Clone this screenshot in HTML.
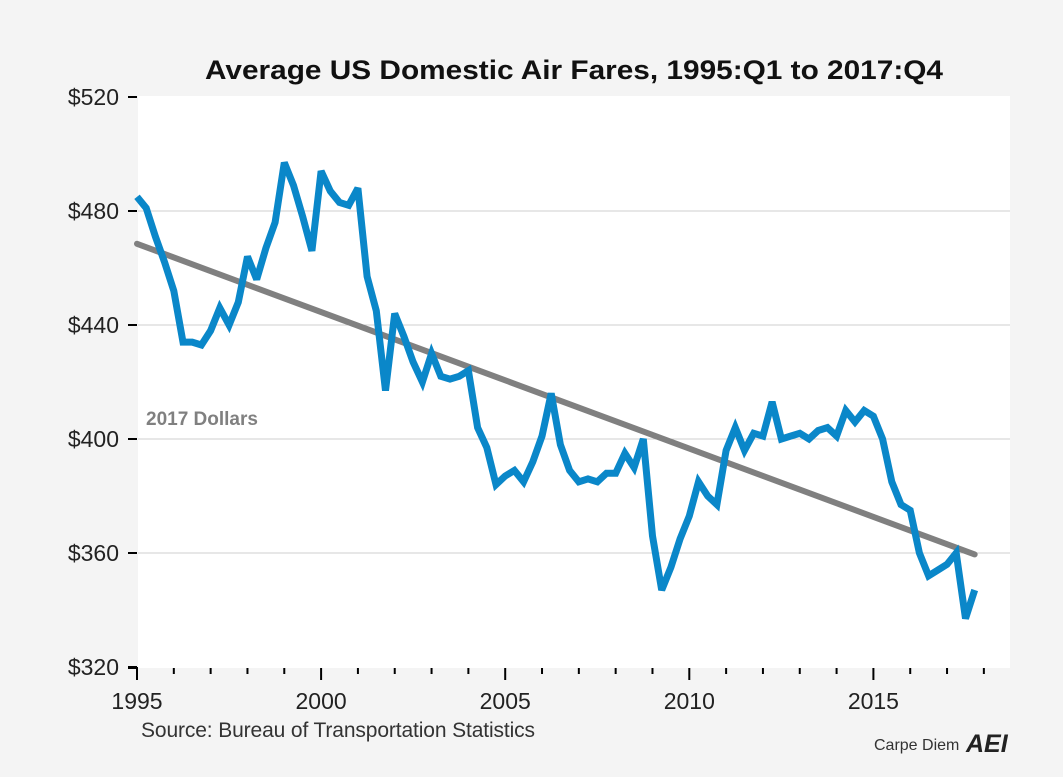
<!DOCTYPE html>
<html><head><meta charset="utf-8"><style>
body{margin:0;background:#f4f4f4;}
svg{display:block;font-family:"Liberation Sans",sans-serif;}
</style></head><body>
<svg id="chart" width="1063" height="777" viewBox="0 0 1063 777">
<rect x="0" y="0" width="1063" height="777" fill="#f4f4f4"/>
<text x="205" y="79" font-size="27" font-weight="bold" fill="#111" textLength="738" lengthAdjust="spacingAndGlyphs">Average US Domestic Air Fares, 1995:Q1 to 2017:Q4</text>
<rect x="138" y="96" width="872" height="572" fill="#fff"/>
<g id="grid"></g><g id="axes"></g><g id="series"></g>
<text x="146" y="425" font-size="19" font-weight="bold" fill="#808080">2017 Dollars</text>
<text x="141" y="737" font-size="21" fill="#333" textLength="394">Source: Bureau of Transportation Statistics</text>
<text x="874" y="750" font-size="16" fill="#333">Carpe Diem</text>
<text x="966" y="752" font-size="25" font-weight="bold" font-style="italic" fill="#222">AEI</text>
</svg>
<script>
const fares = [485,481,471,462, 452,434,434,433, 438,446,440,448, 464,456,467,476,
497,489,478,466, 494,487,483,482, 488,457,445,417, 444,436,427,420,
430,422,421,422, 424,404,397,384, 387,389,385,392, 401,416,398,389,
385,386,385,388, 388,395,390,400, 366,347,355,365, 373,385,380,377,
396,404,396,402, 401,413,400,401, 402,400,403,404, 401,410,406,410,
408,400,385,377, 375,360,352,354, 356,360,337,347];
const startYear = 1995;
const trendEnds = [468.5, 359.5];
const yTicks = [320,360,400,440,480,520];
const xLabels = [1995,2000,2005,2010,2015];

const NS="http://www.w3.org/2000/svg";
const x0=137, pxYear=36.82, yTop=97, yBot=667, vMin=320, vMax=520;
const xScale = t => x0 + (t - startYear) * pxYear;
const yScale = v => yBot - (v - vMin) / (vMax - vMin) * (yBot - yTop);
function mk(tag, attrs, parent){const e=document.createElementNS(NS,tag);for(const k in attrs)e.setAttribute(k,attrs[k]);parent.appendChild(e);return e;}
const grid=document.getElementById('grid'), axes=document.getElementById('axes'), series=document.getElementById('series');

yTicks.forEach(v=>{
  const y=yScale(v);
  if(v>vMin && v<vMax){
    const g=mk('line',{x1:138,x2:1010,y1:y,y2:y,stroke:'#cfcfcf','stroke-width':1},grid);
    
    
  }
  const t=mk('line',{x1:128,x2:137,y1:y,y2:y,stroke:'#000','stroke-width':2},axes);
  
  
  const l=mk('text',{x:119,y:y+8,'text-anchor':'end','font-size':23,fill:'#222'},axes);
  l.textContent='$'+v;
  
  
});
const corner=mk('line',{x1:128,x2:138,y1:668,y2:668,stroke:'#000','stroke-width':2},axes);


for(let yr=1995; yr<=2018; yr++){
  const x=xScale(yr), major=(yr%5===0);
  const t=mk('line',{x1:x,x2:x,y1:668,y2:major?680:674,stroke:'#000','stroke-width':2},axes);
  
  
}
xLabels.forEach(yr=>{
  const l=mk('text',{x:xScale(yr),y:709,'text-anchor':'middle','font-size':23,fill:'#222'},axes);
  l.textContent=yr;
  
  
});

const tEnd = startYear + (fares.length-1)/4;
const trend=mk('line',{x1:xScale(startYear),y1:yScale(trendEnds[0]),x2:xScale(tEnd),y2:yScale(trendEnds[1]),stroke:'#808080','stroke-width':6,'stroke-linecap':'round'},series);



const pts=fares.map((v,i)=>xScale(startYear+i/4).toFixed(1)+','+yScale(v).toFixed(1)).join(' ');
const line=mk('polyline',{points:pts,fill:'none',stroke:'#0a87c9','stroke-width':7,'stroke-linejoin':'miter','stroke-miterlimit':3},series);


</script>
</body></html>
